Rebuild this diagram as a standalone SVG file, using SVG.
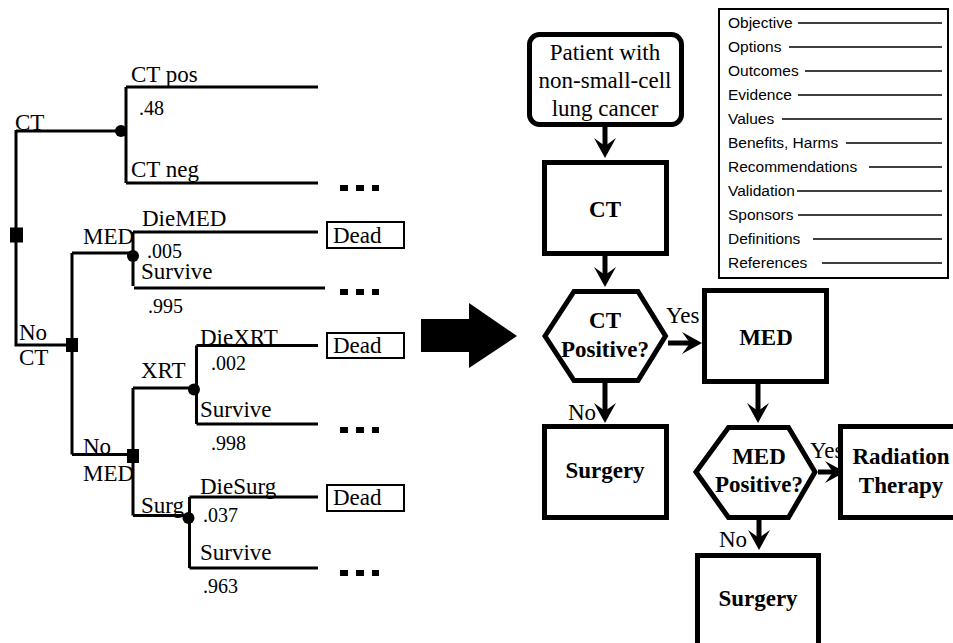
<svg xmlns="http://www.w3.org/2000/svg" width="953" height="643" viewBox="0 0 953 643">
  <style>
    .lbl { font-family: 'Liberation Serif', 'Times New Roman', Times, 'DejaVu Serif', serif; font-size: 23px; fill: #000; }
    .num { font-family: 'Liberation Serif', 'Times New Roman', Times, 'DejaVu Serif', serif; font-size: 20px; fill: #000; }
    .bold { font-family: 'Liberation Serif', 'Times New Roman', Times, 'DejaVu Serif', serif; font-size: 23px; font-weight: bold; fill: #000; text-anchor: middle; }
    .sans { font-family: 'Liberation Sans', Arial, Helvetica, sans-serif; font-size: 15.5px; fill: #000; }
    .branch { stroke: #000; stroke-width: 3; fill: none; }
    .box { stroke: #000; stroke-width: 5; fill: #fff; }
    .thin { stroke: #000; stroke-width: 2; fill: #fff; }
    .flow { stroke: #000; stroke-width: 5; fill: none; marker-end: url(#head); }
    .rule { stroke: #000; stroke-width: 1.5; }
  </style>
  <defs>
    <marker id="head" viewBox="-22 -12 24 24" refX="-12" refY="0" markerWidth="24" markerHeight="24" markerUnits="userSpaceOnUse" orient="auto">
      <path d="M0,0 L-20,-11 L-12,0 L-20,11 Z" fill="#000"/>
    </marker>
  </defs>
  <rect width="953" height="643" fill="#fff"/>

  <!-- Decision tree -->
  <g id="tree-lines">
    <path class="branch" d="M16,130 V345 H72 M16,131 H126 M126,87 V183 M126,87 H318 M126,183 H318"/>
    <path class="branch" d="M72,253 V454.5 M72,253 H133 M133,232 V286 M133,232 H318 M134,288 H325"/>
    <path class="branch" d="M72,454.5 H133 M133,388 V515.5 M133,388 H194 M196.5,345.5 V424 M196.5,345.5 H318 M196.5,424 H318"/>
    <path class="branch" d="M133,515.5 H188 M189.5,497 V568 M189.5,497 H318 M189.5,568 H318"/>
  </g>
  <g id="tree-nodes" fill="#000">
    <circle cx="121" cy="131" r="6"/>
    <circle cx="133" cy="256" r="6"/>
    <circle cx="194" cy="389.5" r="6"/>
    <circle cx="188.5" cy="518" r="6"/>
    <rect x="10" y="227.5" width="13" height="15"/>
    <rect x="66" y="338" width="12" height="14"/>
    <rect x="127" y="449" width="12" height="14"/>
  </g>
  <g id="tree-labels" font-family="Liberation Serif, serif">
    <text class="lbl" x="131" y="82">CT pos</text>
    <text class="num" x="139" y="115">.48</text>
    <text class="lbl" x="15" y="130">CT</text>
    <text class="lbl" x="131" y="177">CT neg</text>
    <text class="lbl" x="142" y="226">DieMED</text>
    <text class="lbl" x="83" y="244">MED</text>
    <text class="num" x="147" y="258">.005</text>
    <text class="lbl" x="141" y="279">Survive</text>
    <text class="num" x="148" y="313">.995</text>
    <text class="lbl" x="19" y="340">No</text>
    <text class="lbl" x="19" y="365">CT</text>
    <text class="lbl" x="200" y="345">DieXRT</text>
    <text class="lbl" x="141" y="378">XRT</text>
    <text class="num" x="211" y="370">.002</text>
    <text class="lbl" x="200" y="417">Survive</text>
    <text class="num" x="211" y="450">.998</text>
    <text class="lbl" x="83" y="454">No</text>
    <text class="lbl" x="83" y="481">MED</text>
    <text class="lbl" x="200" y="494">DieSurg</text>
    <text class="lbl" x="141" y="513">Surg</text>
    <text class="num" x="203" y="522">.037</text>
    <text class="lbl" x="200" y="560">Survive</text>
    <text class="num" x="203" y="593">.963</text>
  </g>
  <g id="outcome-dead-1">
    <rect class="thin" x="327" y="222" width="77" height="26"/>
    <text class="lbl" x="333" y="243">Dead</text>
  </g>
  <g id="outcome-dead-2">
    <rect class="thin" x="327" y="333" width="77" height="25"/>
    <text class="lbl" x="333" y="353">Dead</text>
  </g>
  <g id="outcome-dead-3">
    <rect class="thin" x="327" y="485" width="77" height="26"/>
    <text class="lbl" x="333" y="505">Dead</text>
  </g>
  <g id="continuations" fill="#000">
    <rect x="340" y="185" width="8" height="6"/><rect x="356" y="185" width="8" height="6"/><rect x="372" y="185" width="7" height="6"/>
    <rect x="340" y="289" width="8" height="6"/><rect x="356" y="289" width="8" height="6"/><rect x="372" y="289" width="7" height="6"/>
    <rect x="340" y="427" width="8" height="6"/><rect x="356" y="427" width="8" height="6"/><rect x="372" y="427" width="7" height="6"/>
    <rect x="340" y="570" width="8" height="6"/><rect x="356" y="570" width="8" height="6"/><rect x="372" y="570" width="7" height="6"/>
  </g>

  <!-- Block arrow between the two views -->
  <g id="block-arrow">
    <path d="M421,319 H469 V303 L517,336 L469,368 V352 H421 Z" fill="#000"/>
  </g>

  <!-- Flowchart -->
  <g id="connectors">
    <line class="flow" x1="605" y1="127" x2="605" y2="146"/>
    <line class="flow" x1="605" y1="256" x2="605" y2="275"/>
    <line class="flow" x1="668" y1="343" x2="690" y2="343"/>
    <line class="flow" x1="605" y1="383" x2="605" y2="411"/>
    <line class="flow" x1="758" y1="384" x2="758" y2="411"/>
    <line class="flow" x1="818" y1="472" x2="833" y2="472"/>
    <line class="flow" x1="759" y1="520" x2="759" y2="538"/>
    <text class="lbl" x="666" y="323">Yes</text>
    <text class="lbl" x="568" y="420">No</text>
    <text class="lbl" x="810" y="458">Yes</text>
    <text class="lbl" x="719" y="547">No</text>
  </g>
  <g id="patient">
    <rect class="box" x="529.5" y="34.5" width="152" height="90" rx="10"/>
    <text class="lbl" x="605" y="60" text-anchor="middle">Patient with</text>
    <text class="lbl" x="605" y="88" text-anchor="middle">non-small-cell</text>
    <text class="lbl" x="605" y="116" text-anchor="middle">lung cancer</text>
  </g>
  <g id="ct">
    <rect class="box" x="544.5" y="162.5" width="122" height="91"/>
    <text class="bold" x="605" y="217">CT</text>
  </g>
  <g id="ct-positive">
    <polygon class="box" points="545,336 574,291.5 638,291.5 665.5,336 638,380.5 574,380.5"/>
    <text class="bold" x="605" y="328">CT</text>
    <text class="bold" x="605" y="357">Positive?</text>
  </g>
  <g id="med">
    <rect class="box" x="704.5" y="290.5" width="122" height="91"/>
    <text class="bold" x="766" y="345">MED</text>
  </g>
  <g id="surgery-1">
    <rect class="box" x="544.5" y="426.5" width="122" height="91"/>
    <text class="bold" x="605" y="478">Surgery</text>
  </g>
  <g id="med-positive">
    <polygon class="box" points="696,472 728.5,427.5 788.5,427.5 815,472 788.5,517.5 728.5,517.5"/>
    <text class="bold" x="759" y="464">MED</text>
    <text class="bold" x="759" y="492">Positive?</text>
  </g>
  <g id="radiation">
    <rect class="box" x="840.5" y="426.5" width="130" height="91"/>
    <text class="bold" x="901" y="464">Radiation</text>
    <text class="bold" x="901" y="493">Therapy</text>
  </g>
  <g id="surgery-2">
    <rect class="box" x="697.5" y="555.5" width="121" height="100"/>
    <text class="bold" x="758" y="606">Surgery</text>
  </g>

  <!-- Guideline outline -->
  <g id="outline">
    <rect class="thin" x="719" y="9" width="229" height="269"/>
    <text class="sans" x="728" y="28">Objective</text><line class="rule" x1="798" y1="23" x2="942" y2="23"/>
    <text class="sans" x="728" y="52">Options</text><line class="rule" x1="789" y1="47" x2="942" y2="47"/>
    <text class="sans" x="728" y="76">Outcomes</text><line class="rule" x1="805" y1="71" x2="942" y2="71"/>
    <text class="sans" x="728" y="100">Evidence</text><line class="rule" x1="798" y1="95" x2="942" y2="95"/>
    <text class="sans" x="728" y="124">Values</text><line class="rule" x1="782" y1="119" x2="942" y2="119"/>
    <text class="sans" x="728" y="148">Benefits, Harms</text><line class="rule" x1="846" y1="143" x2="942" y2="143"/>
    <text class="sans" x="728" y="172">Recommendations</text><line class="rule" x1="869" y1="167" x2="942" y2="167"/>
    <text class="sans" x="728" y="196">Validation</text><line class="rule" x1="797" y1="191" x2="942" y2="191"/>
    <text class="sans" x="728" y="220">Sponsors</text><line class="rule" x1="798" y1="215" x2="942" y2="215"/>
    <text class="sans" x="728" y="244">Definitions</text><line class="rule" x1="813" y1="239" x2="942" y2="239"/>
    <text class="sans" x="728" y="268">References</text><line class="rule" x1="822" y1="263" x2="942" y2="263"/>
  </g>
</svg>
